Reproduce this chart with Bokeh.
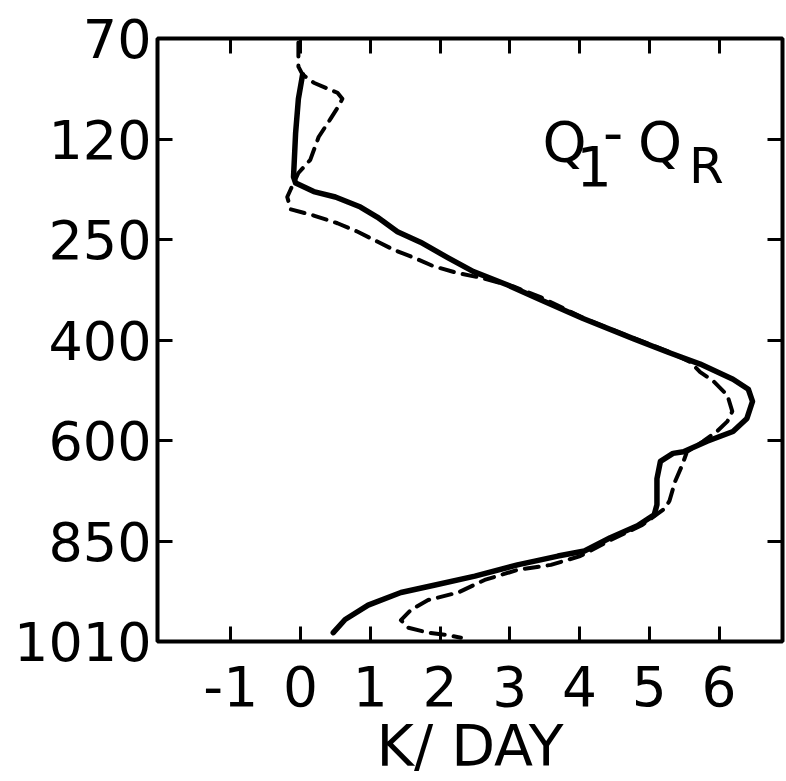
from bokeh.plotting import figure
from bokeh.models import Range1d, FixedTicker, LinearAxis, Label
from bokeh.embed import file_html
from bokeh.resources import INLINE
import numpy as np

# pressure levels shown on the (evenly spaced) vertical axis, hPa
levels = [70, 120, 250, 400, 600, 850, 1010]
x_ticks = [-1, 0, 1, 2, 3, 4, 5, 6]
x_tick_labels = ["-1", "0", "1", "2", "3", "4", "5", "6"]
x_title = "K/ DAY"

# solid profile: Q1 - QR (K/day) vs pressure (hPa)
solid_x = [0.03, -0.03, -0.07, -0.10, -0.07, 0.19, 0.50, 0.86, 1.10, 1.39, 1.72, 2.11,
           2.48, 2.97, 3.44, 4.05, 4.77, 5.26, 5.73, 6.20, 6.42, 6.48, 6.40, 6.20, 5.83,
           5.49, 5.34, 5.16, 5.11, 5.11, 5.07, 4.83, 4.44, 4.07, 3.69, 3.11, 2.50, 1.93,
           1.44, 0.97, 0.64, 0.47]
solid_p = [88, 100, 117, 169, 177, 188, 195, 208, 221, 240, 254, 277,
           298, 318, 340, 368, 398, 424, 448, 478, 498, 522, 556, 582, 602,
           628, 632, 652, 695, 760, 785, 812, 842, 866, 874, 888, 906, 920,
           932, 952, 975, 996]

# dashed profile
dashed_x = [-0.03, -0.03, 0.03, 0.19, 0.53, 0.60, 0.54, 0.43, 0.26, 0.14, -0.03, -0.14,
            -0.19, -0.14, 0.19, 0.53, 0.82, 1.10, 1.33, 1.62, 1.91, 2.25, 2.58, 3.05,
            3.44, 4.05, 4.77, 5.26, 5.59, 5.73, 5.92, 6.12, 6.19, 6.12, 5.97, 5.77,
            5.54, 5.47, 5.37, 5.29, 5.23, 4.90, 4.44, 4.01, 3.59, 3.11, 2.64, 2.26,
            1.83, 1.59, 1.44, 1.54, 1.83, 2.11, 2.30]
dashed_p = [72, 84, 88, 92, 97, 100, 104, 110, 119, 147, 164, 185,
            195, 211, 219, 229, 240, 253, 265, 277, 290, 300, 307, 320,
            336, 367, 397, 422, 444, 464, 482, 510, 542, 562, 582, 602,
            628, 662, 702, 750, 768, 810, 848, 874, 888, 896, 912, 932,
            944, 959, 976, 988, 996, 1000, 1004]

# the vertical axis places the listed levels at equal spacing
lev_pos = list(range(len(levels)))
solid_y = np.interp(solid_p, levels, lev_pos)
dashed_y = np.interp(dashed_p, levels, lev_pos)

FONT = "DejaVu Sans"

p = figure(width=786, height=781, output_backend="svg", toolbar_location=None,
           x_range=Range1d(-2.05, 6.91), y_range=Range1d(6, 0),
           min_border_left=157, min_border_right=4, min_border_top=38,
           min_border_bottom=138, x_axis_location="below", y_axis_location="left")
p.background_fill_color = "white"
p.border_fill_color = "white"
p.outline_line_color = "black"
p.outline_line_width = 4
p.grid.visible = False

p.line(solid_x, solid_y, line_color="black", line_width=5.5, line_join="round", line_cap="round")
p.line(dashed_x, dashed_y, line_color="black", line_width=4, line_dash="14 9",
       line_join="round", line_cap="round")

xt = FixedTicker(ticks=x_ticks)
yt = FixedTicker(ticks=lev_pos)

xa = p.xaxis[0]
xa.ticker = xt
xa.major_label_overrides = {t: s for t, s in zip(x_ticks, x_tick_labels)}
ya = p.yaxis[0]
ya.ticker = yt
ya.major_label_overrides = {i: str(v) for i, v in zip(lev_pos, levels)}

for ax in (xa, ya):
    ax.axis_line_color = None
    ax.major_tick_in = 15
    ax.major_tick_out = 0
    ax.major_tick_line_width = 3
    ax.major_tick_line_color = "black"
    ax.minor_tick_line_color = None
    ax.major_label_text_font = FONT
    ax.major_label_text_color = "black"
xa.major_label_text_font_size = "55px"
xa.major_label_standoff = 24
xa.axis_label = x_title
xa.axis_label_text_font = FONT
xa.axis_label_text_font_size = "57px"
xa.axis_label_text_font_style = "normal"
xa.axis_label_text_color = "black"
xa.axis_label_standoff = 4
ya.major_label_text_font_size = "54px"
ya.major_label_standoff = 6

# mirrored inward ticks on top and right
ra = LinearAxis(ticker=yt)
ta = LinearAxis(ticker=xt)
for ax in (ra, ta):
    ax.axis_line_color = None
    ax.major_tick_in = 15
    ax.major_tick_out = 0
    ax.major_tick_line_width = 3
    ax.major_tick_line_color = "black"
    ax.minor_tick_line_color = None
    ax.major_label_text_font_size = "0px"
    ax.major_label_standoff = 0
    ax.major_label_text_color = None
p.add_layout(ra, "right")
p.add_layout(ta, "above")

def lab(x, y, t, size, align="left"):
    p.add_layout(Label(x=x, y=y, text=t, text_font=FONT, text_font_size=size,
                       text_color="black", text_align=align, text_baseline="middle"))

# Q1 - QR annotation
lab(3.47, 1.02, "Q", "56px")
lab(4.21, 1.265, "1", "56px", "center")
lab(4.48, 0.93, "-", "56px", "center")
lab(4.84, 1.02, "Q", "56px")
lab(5.57, 1.27, "R", "50px")

open("out.html", "w").write(file_html(p, INLINE))
